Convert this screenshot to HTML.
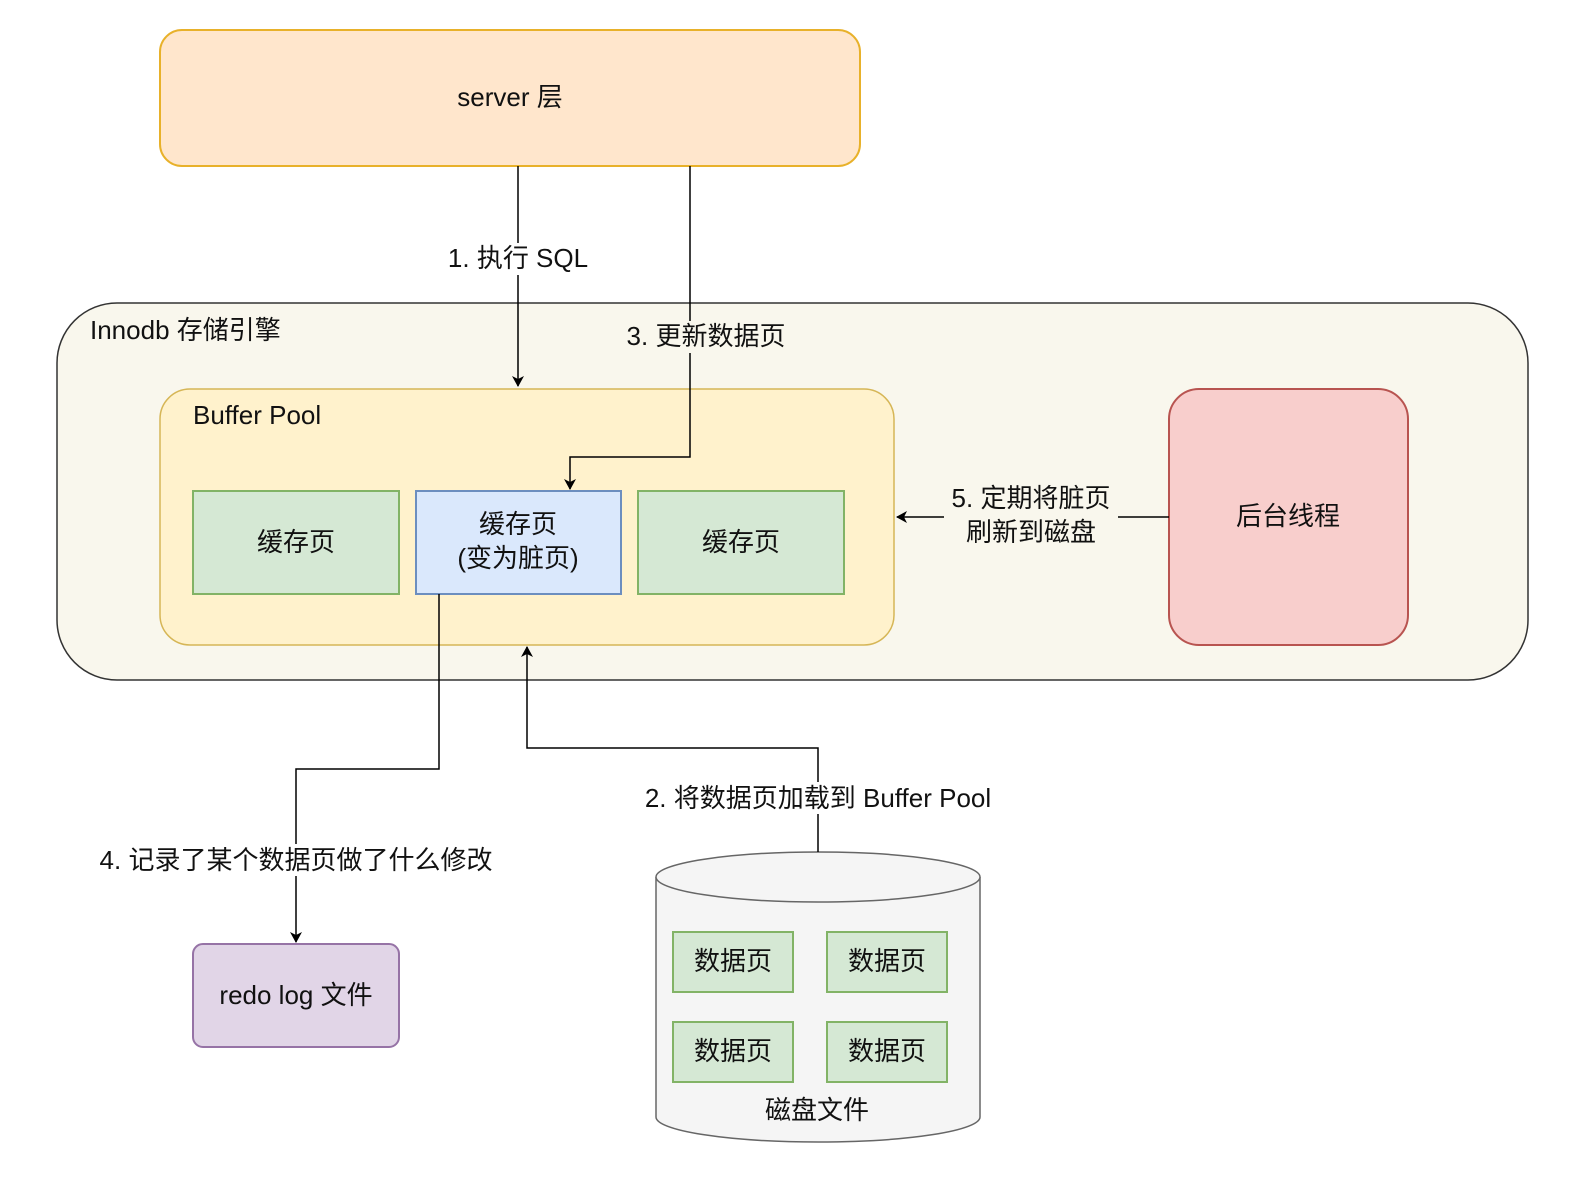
<!DOCTYPE html>
<html><head><meta charset="utf-8"><style>
body{margin:0;background:#fff}
svg text{font-family:"Liberation Sans","Noto Sans CJK SC",sans-serif;fill:#111}
</style></head><body>
<svg width="1574" height="1190" viewBox="0 0 1574 1190" xmlns="http://www.w3.org/2000/svg">
<defs><marker id="a" markerWidth="12" markerHeight="12" refX="10" refY="6" orient="auto" markerUnits="userSpaceOnUse"><path d="M0,0 L11,6 L0,12 L3,6 Z" fill="#000"/></marker></defs>
<rect x="160" y="30" width="700" height="136" rx="22" fill="#ffe6cc" stroke="#e8b12a" stroke-width="2"/>
<text x="510" y="106" font-size="26" text-anchor="middle">server 层</text>
<rect x="57" y="303" width="1471" height="377" rx="60" fill="#f9f7ed" stroke="#333" stroke-width="1.5"/>
<text x="90" y="339" font-size="26">Innodb 存储引擎</text>
<rect x="160" y="389" width="734" height="256" rx="30" fill="#fff2cc" stroke="#d6b656" stroke-width="1.5"/>
<text x="193" y="424" font-size="26">Buffer Pool</text>
<rect x="193" y="491" width="206" height="103" fill="#d5e8d4" stroke="#82b366" stroke-width="2"/>
<text x="296" y="551" font-size="26" text-anchor="middle">缓存页</text>
<rect x="416" y="491" width="205" height="103" fill="#dae8fc" stroke="#6c8ebf" stroke-width="2"/>
<text x="518" y="533" font-size="26" text-anchor="middle">缓存页</text>
<text x="518" y="567" font-size="26" text-anchor="middle">(变为脏页)</text>
<rect x="638" y="491" width="206" height="103" fill="#d5e8d4" stroke="#82b366" stroke-width="2"/>
<text x="741" y="551" font-size="26" text-anchor="middle">缓存页</text>
<rect x="1169" y="389" width="239" height="256" rx="30" fill="#f8cecc" stroke="#b85450" stroke-width="2"/>
<text x="1288" y="525" font-size="26" text-anchor="middle">后台线程</text>
<rect x="193" y="944" width="206" height="103" rx="10" fill="#e1d5e7" stroke="#9673a6" stroke-width="2"/>
<text x="296" y="1004" font-size="26" text-anchor="middle">redo log 文件</text>
<path d="M656,877 L656,1117 A162,25 0 0 0 980,1117 L980,877" fill="#f5f5f5" stroke="#666" stroke-width="1.5"/>
<ellipse cx="818" cy="877" rx="162" ry="25" fill="#f5f5f5" stroke="#666" stroke-width="1.5"/>
<rect x="673" y="932" width="120" height="60" fill="#d5e8d4" stroke="#82b366" stroke-width="2"/>
<rect x="827" y="932" width="120" height="60" fill="#d5e8d4" stroke="#82b366" stroke-width="2"/>
<rect x="673" y="1022" width="120" height="60" fill="#d5e8d4" stroke="#82b366" stroke-width="2"/>
<rect x="827" y="1022" width="120" height="60" fill="#d5e8d4" stroke="#82b366" stroke-width="2"/>
<g font-size="26" text-anchor="middle">
<text x="733" y="970">数据页</text><text x="887" y="970">数据页</text>
<text x="733" y="1060">数据页</text><text x="887" y="1060">数据页</text>
<text x="817" y="1119" fill="#333">磁盘文件</text></g>
<g fill="none" stroke="#000" stroke-width="1.5">
<path d="M518,166 V386" marker-end="url(#a)"/>
<path d="M690,166 V457 H570 V489" marker-end="url(#a)"/>
<path d="M1169,517 H897" marker-end="url(#a)"/>
<path d="M439,594 V769 H296 V942" marker-end="url(#a)"/>
<path d="M818,852 V748 H527 V647" marker-end="url(#a)"/>
</g>
<g font-size="26" text-anchor="middle">
<rect x="442" y="243" width="152" height="32" fill="#fff"/><text x="518" y="267">1. 执行 SQL</text>
<rect x="620" y="321" width="172" height="32" fill="#f9f7ed"/><text x="706" y="345">3. 更新数据页</text>
<rect x="944" y="482" width="174" height="68" fill="#f9f7ed"/><text x="1031" y="507">5. 定期将脏页</text><text x="1031" y="541">刷新到磁盘</text>
<rect x="86" y="844" width="420" height="32" fill="#fff"/><text x="296" y="869">4. 记录了某个数据页做了什么修改</text>
<rect x="632" y="782" width="372" height="32" fill="#fff"/><text x="818" y="807">2. 将数据页加载到 Buffer Pool</text>
</g>
</svg>
</body></html>
